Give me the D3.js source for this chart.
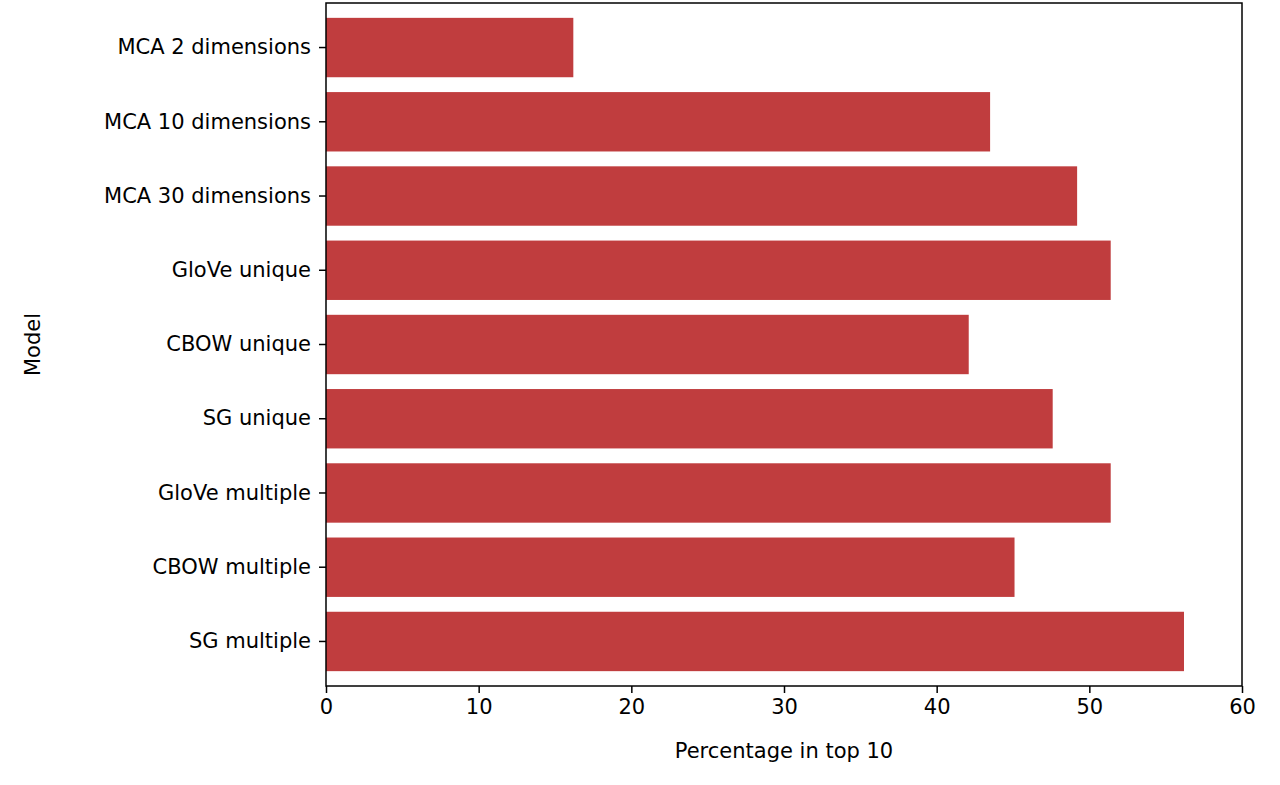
<!DOCTYPE html>
<html><head><meta charset="utf-8">
<script src="https://cdn.jsdelivr.net/npm/d3@7"></script>
<style>body{margin:0;background:#fff}text{font-family:"DejaVu Sans",sans-serif}</style>
</head><body><svg id="chart" width="1280" height="785"></svg>
<script>
const models = ['MCA 2 dimensions', 'MCA 10 dimensions', 'MCA 30 dimensions', 'GloVe unique',
  'CBOW unique', 'SG unique', 'GloVe multiple', 'CBOW multiple', 'SG multiple']
const percentages = [16.2, 43.5, 49.2, 51.4, 42.1, 47.6, 51.4, 45.1, 56.2]
const xTicks = [0, 10, 20, 30, 40, 50, 60]

const margin = { top: 3, right: 38, bottom: 99, left: 326 }
const width = 1280, height = 785
const svg = d3.select('#chart')
const g = svg.append('g').attr('transform', `translate(${margin.left},${margin.top})`)
const w = width - margin.left - margin.right
const h = height - margin.top - margin.bottom

const x = d3.scaleLinear().domain([0, 60]).range([0, w])
const y = d3.scaleBand().domain(models).range([0, h]).padding(0.2)

g.selectAll('rect.bar').data(models).join('rect')
  .attr('class', 'bar')
  .attr('x', 0)
  .attr('y', (d) => y(d))
  .attr('width', (d, i) => x(percentages[i]))
  .attr('height', y.bandwidth())
  .attr('fill', '#c03d3e')

const xAxis = g.append('g').attr('transform', `translate(0,${h})`)
  .call(d3.axisBottom(x).tickValues(xTicks).tickSizeOuter(0).tickSize(7).tickPadding(6))
const yAxis = g.append('g')
  .call(d3.axisLeft(y).tickSizeOuter(0).tickSize(7).tickPadding(8))
;[xAxis, yAxis].forEach((a) => {
  a.selectAll('text').attr('font-size', 21).attr('fill', '#000')
  a.selectAll('line').attr('stroke', '#000').attr('stroke-width', 1.5)
  a.select('.domain').remove()
})

// frame
g.append('rect').attr('width', w).attr('height', h)
  .attr('fill', 'none').attr('stroke', '#000').attr('stroke-width', 1.5)

svg.append('text').attr('x', margin.left + w / 2).attr('y', 758)
  .attr('text-anchor', 'middle').attr('font-size', 21).text('Percentage in top 10')
svg.append('text').attr('transform', `translate(40,${margin.top + h / 2}) rotate(-90)`)
  .attr('text-anchor', 'middle').attr('font-size', 21).text('Model')
</script></body></html>
